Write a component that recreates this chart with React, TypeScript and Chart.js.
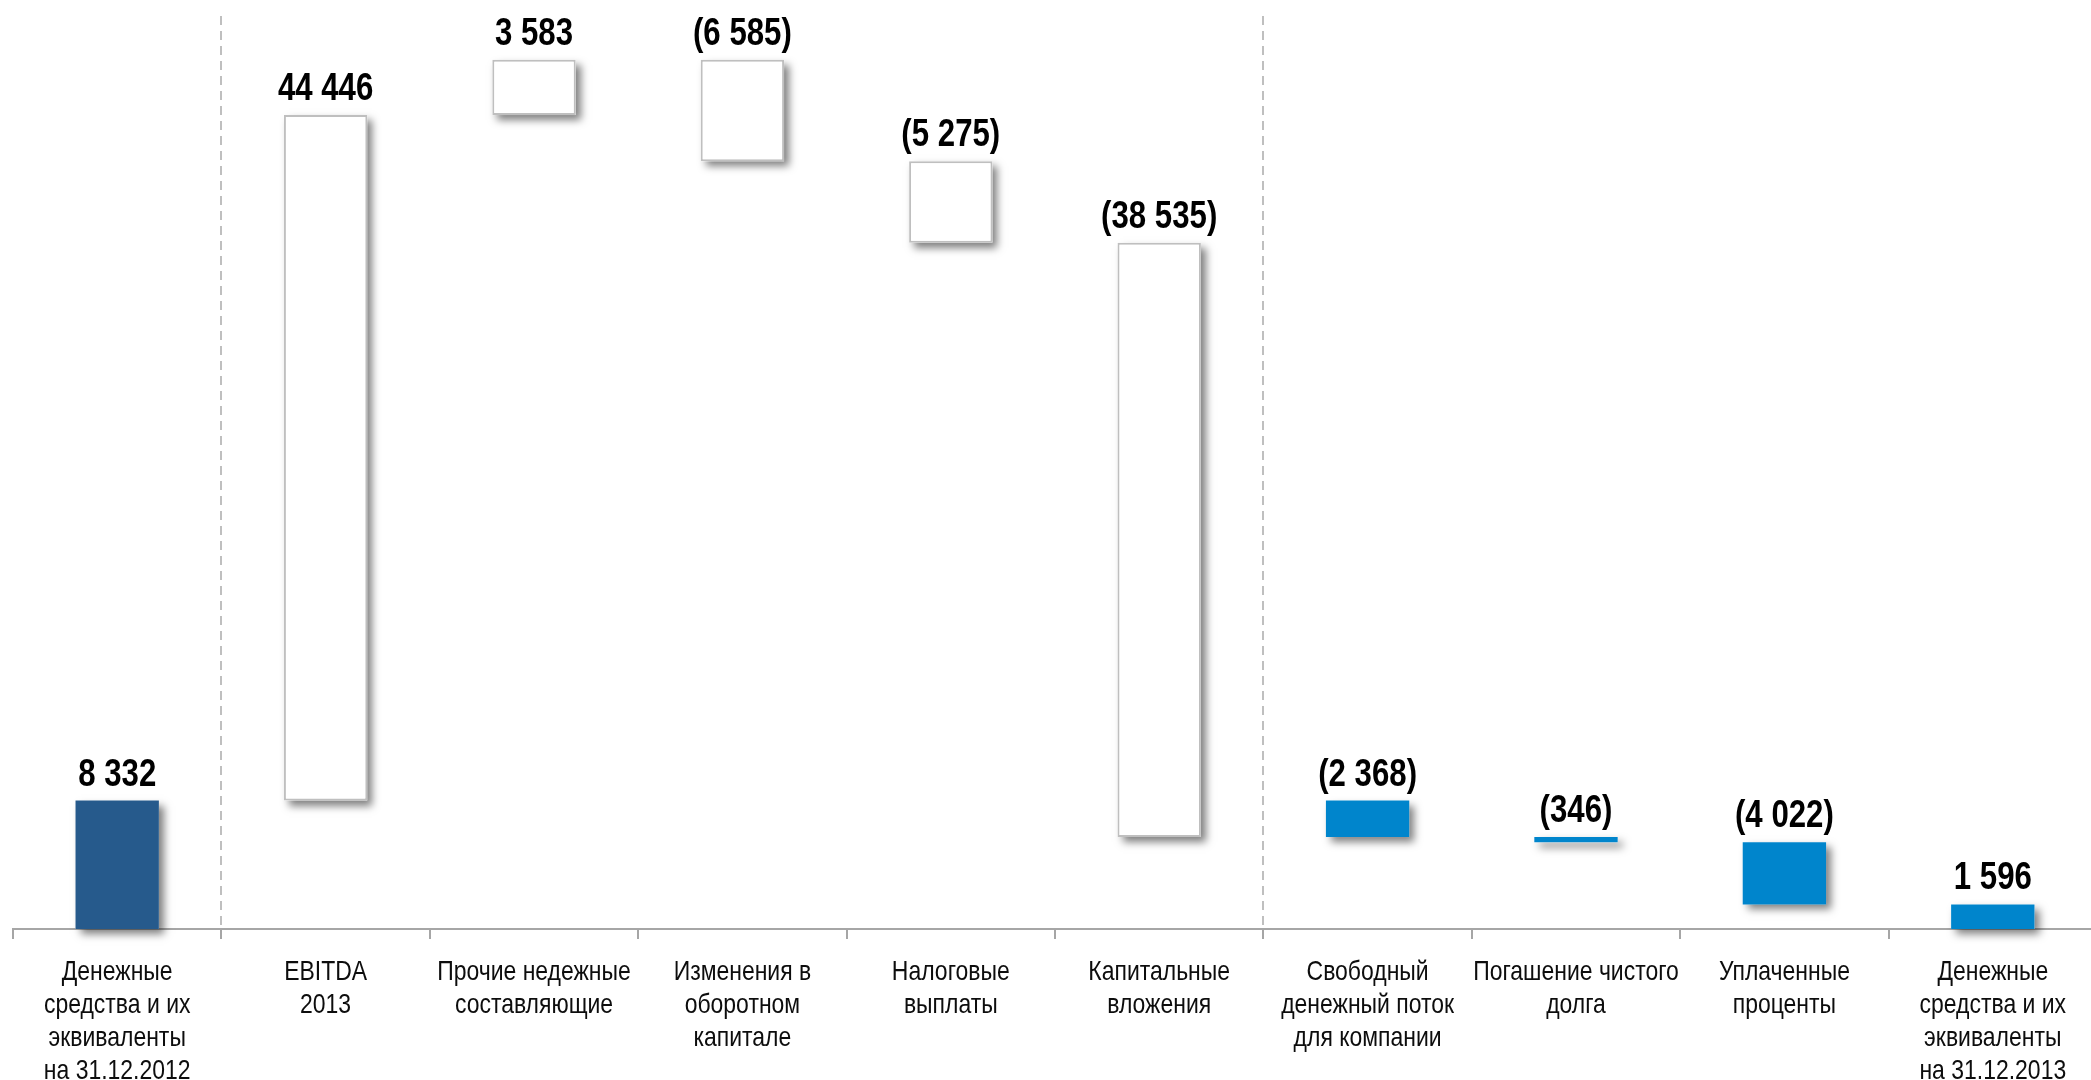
import React, { useEffect, useRef } from "react";
import { Chart, registerables } from "chart.js";

Chart.register(...registerables);

const categories: string[][] = [
  ["Денежные", "средства и их", "эквиваленты", "на 31.12.2012"],
  ["EBITDA", "2013"],
  ["Прочие недежные", "составляющие"],
  ["Изменения в", "оборотном", "капитале"],
  ["Налоговые", "выплаты"],
  ["Капитальные", "вложения"],
  ["Свободный", "денежный поток", "для компании"],
  ["Погашение чистого", "долга"],
  ["Уплаченные", "проценты"],
  ["Денежные", "средства и их", "эквиваленты", "на 31.12.2013"],
];

const values: number[] = [8332, 44446, 3583, -6585, -5275, -38535, -2368, -346, -4022, 1596];

// total: bar from 0; delta: continues running sum; restart: delta starting from last total
const kinds: string[] = ["total", "delta", "delta", "delta", "delta", "delta", "restart", "delta", "delta", "total"];

const barColors: string[] = ["#265A8C", "#FFFFFF", "#FFFFFF", "#FFFFFF", "#FFFFFF", "#FFFFFF", "#0085CC", "#0085CC", "#0085CC", "#0085CC"];
const barBorders: number[] = [0, 2, 2, 2, 2, 2, 0, 0, 0, 0];

const separatorsAfter: number[] = [0, 5];

const FONT = "'Liberation Sans', Arial, sans-serif";

function fmt(v: number): string {
  const s = Math.abs(v).toString().replace(/\B(?=(\d{3})+(?!\d))/g, " ");
  return v < 0 ? "(" + s + ")" : s;
}

function buildRanges(): [number, number][] {
  const out: [number, number][] = [];
  let running = 0;
  let lastTotal = 0;
  values.forEach((v, i) => {
    const k = kinds[i];
    if (k === "total") {
      out.push([0, v]);
      running = v;
      lastTotal = v;
    } else if (k === "restart") {
      out.push([lastTotal, lastTotal + v]);
      running = lastTotal + v;
    } else {
      out.push([running, running + v]);
      running += v;
    }
  });
  return out;
}

function narrowText(ctx: CanvasRenderingContext2D, text: string, x: number, y: number, sx: number) {
  ctx.save();
  ctx.translate(x, y);
  ctx.scale(sx, 1);
  ctx.fillText(text, 0, 0);
  ctx.restore();
}

const shadowPlugin = {
  id: "barShadow",
  beforeDatasetsDraw(chart: any) {
    const ctx = chart.ctx;
    const meta = chart.getDatasetMeta(0);
    meta.data.forEach((el: any) => {
      const top = Math.min(el.y, el.base);
      const h = Math.abs(el.base - el.y);
      const left = el.x - el.width / 2;
      ctx.save();
      ctx.shadowColor = "rgba(0,0,0,0.5)";
      ctx.shadowBlur = 8;
      ctx.shadowOffsetX = 5;
      ctx.shadowOffsetY = 5;
      ctx.fillStyle = "#FFFFFF";
      ctx.fillRect(left, top, el.width, h);
      ctx.restore();
    });
  },
};

const labelsPlugin = {
  id: "valueLabels",
  afterDatasetsDraw(chart: any) {
    const ctx = chart.ctx;
    const meta = chart.getDatasetMeta(0);
    ctx.save();
    ctx.font = "bold 39px " + FONT;
    ctx.fillStyle = "#000000";
    ctx.textAlign = "center";
    ctx.textBaseline = "alphabetic";
    meta.data.forEach((el: any, i: number) => {
      const top = Math.min(el.y, el.base);
      narrowText(ctx, fmt(values[i]), el.x, top - 15, 0.8);
    });
    ctx.restore();
  },
};

const categoryLabelsPlugin = {
  id: "categoryLabels",
  afterDraw(chart: any) {
    const ctx = chart.ctx;
    const xs = chart.scales.x;
    const labels = chart.data.labels as string[][];
    ctx.save();
    ctx.font = "28px " + FONT;
    ctx.fillStyle = "#0d0d0d";
    ctx.textAlign = "center";
    ctx.textBaseline = "middle";
    labels.forEach((lines, i) => {
      const x = xs.getPixelForValue(i);
      lines.forEach((line, j) => {
        narrowText(ctx, line, x, xs.top + 43 + j * 33, 0.82);
      });
    });
    ctx.restore();
  },
};

const separatorPlugin = {
  id: "separators",
  beforeDatasetsDraw(chart: any) {
    const ctx = chart.ctx;
    const xs = chart.scales.x;
    const area = chart.chartArea;
    ctx.save();
    ctx.strokeStyle = "#BFBFBF";
    ctx.lineWidth = 2;
    ctx.setLineDash([9, 6]);
    separatorsAfter.forEach((i) => {
      const x = Math.round((xs.getPixelForValue(i) + xs.getPixelForValue(i + 1)) / 2);
      ctx.beginPath();
      ctx.moveTo(x, area.top);
      ctx.lineTo(x, area.bottom);
      ctx.stroke();
    });
    ctx.restore();
  },
};

export default function App() {
  const ref = useRef<HTMLCanvasElement | null>(null);

  useEffect(() => {
    document.body.style.margin = "0";
    document.body.style.overflow = "hidden";
    if (!ref.current) return;
    const chart = new Chart(ref.current, {
      type: "bar",
      data: {
        labels: categories,
        datasets: [
          {
            data: buildRanges() as any,
            backgroundColor: barColors,
            borderColor: "#BFBFBF",
            borderWidth: barBorders,
            borderSkipped: false,
            barPercentage: 0.4,
            categoryPercentage: 1,
          },
        ],
      },
      options: {
        animation: false,
        responsive: false,
        devicePixelRatio: 1,
        layout: { padding: { left: 13, right: 0, top: 16, bottom: 0 } },
        plugins: {
          legend: { display: false },
          tooltip: { enabled: false },
        },
        scales: {
          x: {
            offset: true,
            grid: {
              display: true,
              drawOnChartArea: false,
              drawTicks: true,
              tickLength: 10,
              color: "#A6A6A6",
              lineWidth: 2,
              offset: true,
            },
            border: { display: true, color: "#A6A6A6", width: 2 },
            ticks: {
              display: false,
              autoSkip: false,
            },
            afterFit: (scale: any) => {
              scale.height = 151;
            },
          },
          y: {
            display: false,
            min: 0,
            max: 59200,
          },
        },
      },
      plugins: [separatorPlugin, shadowPlugin, labelsPlugin, categoryLabelsPlugin],
    });
    return () => chart.destroy();
  }, []);

  return (
    <div style={{ width: 2091, height: 1080, overflow: "hidden" }}>
      <canvas ref={ref} width={2097} height={1080} style={{ display: "block" }} />
    </div>
  );
}
